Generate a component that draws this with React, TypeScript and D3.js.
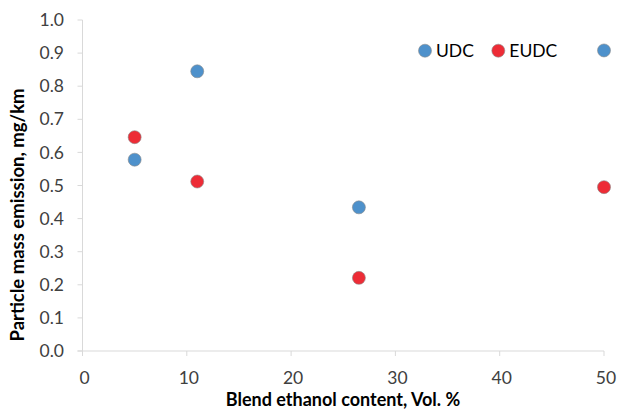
import React, { useEffect } from "react";
import * as d3 from "d3";

const W = 618;
const H = 411;

const seriesNames = ["UDC", "EUDC"];
const seriesColors = ["#4e91cb", "#ed2c36"];
const udcX = [5, 11, 26.5, 50];
const udcY = [0.578, 0.845, 0.434, 0.908];
const eudcX = [5, 11, 26.5, 50];
const eudcY = [0.646, 0.512, 0.221, 0.495];
const xTicks = [0, 10, 20, 30, 40, 50];
const yTicks = [0, 0.1, 0.2, 0.3, 0.4, 0.5, 0.6, 0.7, 0.8, 0.9, 1.0];

const xTitle = "Blend ethanol content, Vol. %";
const yTitle = "Particle mass emission, mg/km";

const FONT = "Lato, 'Open Sans', sans-serif";

export default function App() {
  useEffect(() => {
    document.body.style.margin = "0";
  }, []);

  const x = d3.scaleLinear().domain([0, 50]).range([82.5, 604]);
  const y = d3.scaleLinear().domain([0, 1]).range([351, 20]);

  const axisColor = "#d9d9d9";
  const textColor = "#404040";

  const series = [
    { name: seriesNames[0], color: seriesColors[0], xs: udcX, ys: udcY },
    { name: seriesNames[1], color: seriesColors[1], xs: eudcX, ys: eudcY },
  ];

  return (
    <svg width={W} height={H} style={{ position: "absolute", left: 0, top: 0, background: "#fff" }}>
      {/* y axis */}
      <line x1={x(0)} x2={x(0)} y1={y(0)} y2={y(1)} stroke={axisColor} strokeWidth={1} />
      {yTicks.map((t) => (
        <g key={"y" + t}>
          <line x1={x(0) - 5} x2={x(0)} y1={y(t)} y2={y(t)} stroke={axisColor} strokeWidth={1} />
          <text
            x={64}
            y={y(t)}
            dy="0.35em"
            textAnchor="end"
            fontFamily={FONT}
            fontSize={17.5}
            fill={textColor}
          >
            {d3.format(".1f")(t)}
          </text>
        </g>
      ))}
      {/* x axis */}
      <line x1={x(0) - 5} x2={x(50)} y1={y(0)} y2={y(0)} stroke={axisColor} strokeWidth={1} />
      {xTicks.map((t) => (
        <g key={"x" + t}>
          <line x1={x(t)} x2={x(t)} y1={y(0)} y2={y(0) + 5} stroke={axisColor} strokeWidth={1} />
          <text
            x={x(t) + 2}
            y={y(0) + 27}
            dy="0.35em"
            textAnchor="middle"
            fontFamily={FONT}
            fontSize={17.5}
            fill={textColor}
          >
            {t}
          </text>
        </g>
      ))}
      {/* titles */}
      <text
        x={343}
        y={400}
        dy="0.35em"
        textAnchor="middle"
        fontFamily={FONT}
        fontSize={18}
        fontWeight="bold"
        fill="#000"
      >
        {xTitle}
      </text>
      <text
        transform={`translate(18, 215) rotate(-90)`}
        dy="0.35em"
        textAnchor="middle"
        fontFamily={FONT}
        fontSize={18.5}
        fontWeight="bold"
        fill="#000"
      >
        {yTitle}
      </text>
      {/* points */}
      {series.map((s) =>
        s.xs.map((xv, i) => (
          <circle
            key={s.name + i}
            cx={x(xv)}
            cy={y(s.ys[i])}
            r={6.5}
            fill={s.color}
            stroke="#8a8a8a"
            strokeWidth={0.6}
          />
        ))
      )}
      {/* legend */}
      {series.map((s, i) => {
        const lx = [425, 498.3][i];
        const ly = 50.7;
        return (
          <g key={"leg" + s.name}>
            <circle cx={lx} cy={ly} r={6.5} fill={s.color} stroke="#8a8a8a" strokeWidth={0.6} />
            <text x={lx + 11} y={ly} dy="0.35em" fontFamily={FONT} fontSize={17.5} fill="#000">
              {s.name}
            </text>
          </g>
        );
      })}
    </svg>
  );
}
